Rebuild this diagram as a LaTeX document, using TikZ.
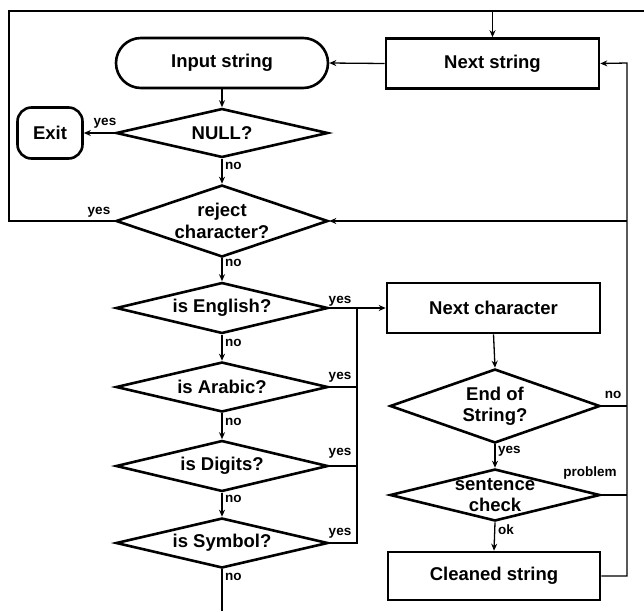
\documentclass[tikz,border=0pt]{standalone}
\usepackage{fontspec}
\setmainfont{Liberation Sans}
\usetikzlibrary{shapes.geometric,arrows.meta,calc}
\begin{document}
\begin{tikzpicture}[x=1pt,y=-1pt,
  proc/.style={draw, line width=2.6pt, rectangle, minimum width=212pt, minimum height=50pt, inner sep=0pt, font=\bfseries\fontsize{18.5}{21}\selectfont},
  term/.style={proc, rounded corners=25pt},
  dec/.style={draw, diamond, line width=2.6pt, inner sep=0pt, minimum width=212pt, minimum height=#1},
  txt/.style={font=\bfseries\fontsize{18.5}{21.5}\selectfont, align=center, inner sep=0pt},
  lab/.style={font=\bfseries\fontsize{13.5}{15}\selectfont, inner sep=1pt},
  conn/.style={line width=1.3pt},
  arr/.style={conn, -{Stealth[length=7pt,width=6pt]}}]
\useasboundingbox (0,0) rectangle (644,611);
% nodes
\node[term] (instr) at (222,63) {Input string};
\node[proc, minimum width=213pt] (nexts) at (492.5,63.5) {Next string};
\node[proc, minimum width=65pt, minimum height=51pt, rounded corners=14pt] (exit) at (50,133) {Exit};
\node[dec=49pt, label={[txt]center:NULL?}] (null) at (222,133) {};
\node[dec=72pt, label={[txt]center:{reject\\character?}}] (reject) at (222,221) {};
\node[dec=51pt, label={[txt]center:is English?}] (english) at (222,308) {};
\node[dec=50pt, label={[txt]center:is Arabic?}] (arabic) at (222,387) {};
\node[dec=51pt, label={[txt]center:is Digits?}] (digits) at (222,466) {};
\node[dec=50pt, label={[txt]center:is Symbol?}] (symbol) at (222,543) {};
\node[proc, minimum width=213pt] (nextc) at (493.5,308) {Next character};
\node[dec=74pt, minimum width=210pt, label={[txt]center:{End of\\String?}}] (eos) at (495,406) {};
\node[dec=52pt, minimum width=210pt, label={[txt]center:{sentence\\check}}] (sent) at (495,495) {};
\node[proc, minimum width=212pt, minimum height=48pt] (clean) at (494,576) {Cleaned string};
% helper coordinates
\coordinate (tl) at (9,11);
\coordinate (tr) at (644,11);
\coordinate (bus) at (357,308);
\coordinate (rb) at (627,63);
\coordinate (bot) at (222,611);
% connectors
\draw[conn] (reject.west) -| (tl) -- (tr);
\node[lab] at (99,212) {yes};
\draw[arr] (nexts.north |- tl) -- (nexts.north);
\draw[arr] (nexts.west) -- (instr.east);
\draw[arr] (instr.south) -- (null.north);
\draw[arr] (null.west) -- (exit.east);
\node[lab] at (105,123) {yes};
\draw[arr] (null.south) -- (reject.north);
\node[lab, anchor=west] at (224,166) {no};
\draw[arr] (reject.south) -- (english.north);
\node[lab, anchor=west] at (224,263) {no};
\draw[arr] (english.south) -- (arabic.north);
\node[lab, anchor=west] at (224,343) {no};
\draw[arr] (arabic.south) -- (digits.north);
\node[lab, anchor=west] at (224,422) {no};
\draw[arr] (digits.south) -- (symbol.north);
\node[lab, anchor=west] at (224,499) {no};
\draw[conn] (symbol.south) -- (bot);
\node[lab, anchor=west] at (224,577) {no};
\draw[arr] (english.east) -- (nextc.west);
\draw[conn] (arabic.east) -| (bus);
\draw[conn] (digits.east) -| (bus);
\draw[conn] (symbol.east) -| (bus);
\node[lab] at (340,301) {yes};
\node[lab] at (340,377) {yes};
\node[lab] at (340,453) {yes};
\node[lab] at (340,533) {yes};
\draw[arr] (nextc.south) -- (eos.north);
\draw[arr] (eos.south) -- (sent.north);
\node[lab, anchor=west] at (497,451) {yes};
\draw[arr] (sent.south) -- (clean.north);
\node[lab, anchor=west] at (497,530) {ok};
\draw[arr] (clean.east) -| (rb) -- (nexts.east);
\draw[conn] (eos.east) -- (eos.east -| rb);
\node[lab] at (613,395) {no};
\draw[conn] (sent.east) -- (sent.east -| rb);
\node[lab] at (590,473) {problem};
\draw[arr] (reject.east -| rb) -- (reject.east);
\end{tikzpicture}
\end{document}
